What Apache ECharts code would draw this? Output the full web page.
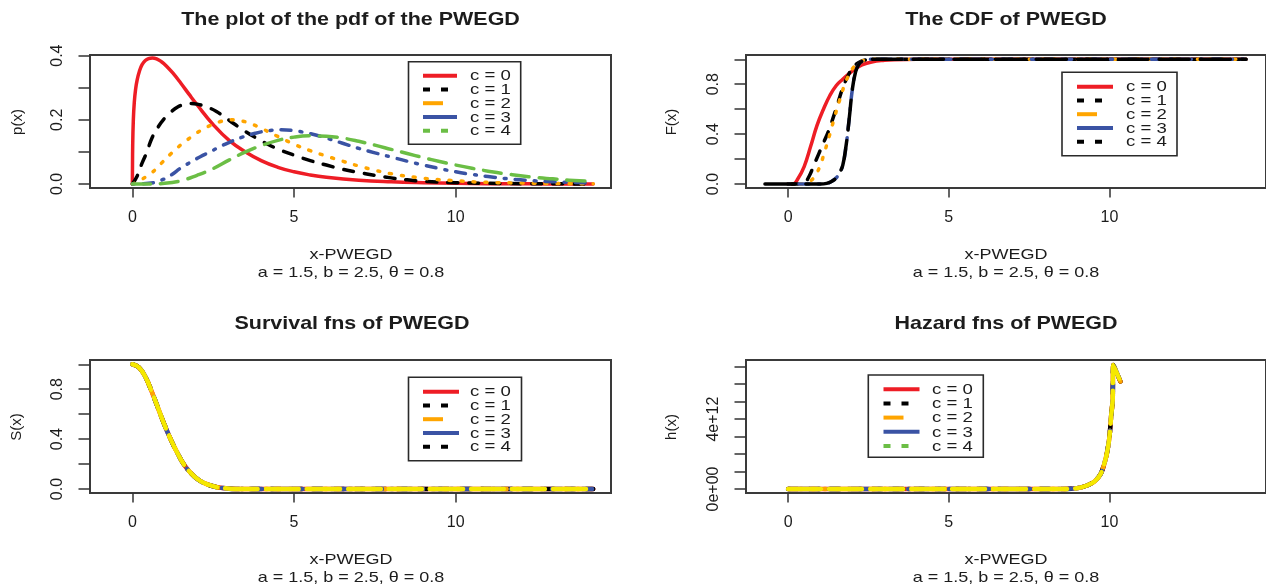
<!DOCTYPE html>
<html>
<head>
<meta charset="utf-8">
<script src="https://cdn.jsdelivr.net/npm/echarts@6/dist/echarts.min.js"></script>
<style>
  html, body { margin: 0; padding: 0; background: #ffffff; }
  #chart { width: 1266px; height: 587px; }
</style>
</head>
<body>
<div id="chart"></div>
<script>
// ---------------- data ----------------
const cLabels = ['c = 0', 'c = 1', 'c = 2', 'c = 3', 'c = 4'];
const xTickValues = [0, 5, 10];
const subtitleText = 'a = 1.5, b = 2.5, \u03b8 = 0.8';

// pdf p(x) for c = 0..4
const pdfX_c0 = [0, 0.01, 0.03, 0.06, 0.1, 0.15, 0.22, 0.3, 0.4, 0.5, 0.62, 0.75, 0.9, 1.05, 1.25, 1.5, 1.75, 2.0, 2.5, 3.0, 3.5, 4.0, 4.5, 5.0, 5.5, 6.0, 7.0, 8.0, 9.0, 10.0, 11.0, 12.0, 13.0, 14.25];
const pdfY_c0 = [0, 0.12, 0.2, 0.255, 0.295, 0.325, 0.352, 0.372, 0.385, 0.391, 0.393, 0.39, 0.381, 0.368, 0.346, 0.314, 0.28, 0.247, 0.185, 0.135, 0.1, 0.072, 0.052, 0.038, 0.028, 0.021, 0.012, 0.007, 0.004, 0.002, 0.001, 0.0006, 0.0003, 0.0001];
const pdfX_c1 = [0, 0.15, 0.3, 0.45, 0.6, 0.8, 1.0, 1.2, 1.4, 1.6, 1.8, 2.0, 2.3, 2.6, 3.0, 3.4, 3.8, 4.2, 4.6, 5.0, 5.5, 6.0, 6.5, 7.0, 7.5, 8.0, 8.5, 9.0, 10.0, 11.0, 12.0, 13.0, 14.25];
const pdfY_c1 = [0, 0.025, 0.065, 0.1, 0.142, 0.178, 0.205, 0.225, 0.24, 0.248, 0.251, 0.249, 0.24, 0.226, 0.198, 0.17, 0.145, 0.123, 0.105, 0.09, 0.073, 0.059, 0.046, 0.036, 0.027, 0.019, 0.013, 0.008, 0.004, 0.002, 0.001, 0.0005, 0.0002];
const pdfX_c2 = [0, 0.3, 0.6, 0.9, 1.2, 1.5, 1.8, 2.1, 2.4, 2.7, 3.0, 3.3, 3.6, 4.0, 4.5, 5.0, 5.5, 6.0, 6.5, 7.0, 7.5, 8.0, 9.0, 10.0, 11.0, 12.0, 13.0, 14.25];
const pdfY_c2 = [0, 0.015, 0.035, 0.065, 0.095, 0.122, 0.145, 0.166, 0.182, 0.194, 0.2, 0.198, 0.19, 0.173, 0.148, 0.124, 0.104, 0.087, 0.071, 0.056, 0.043, 0.032, 0.018, 0.01, 0.005, 0.003, 0.0015, 0.0007];
const pdfX_c3 = [0, 0.5, 0.9, 1.2, 1.5, 1.8, 2.1, 2.4, 2.7, 3.0, 3.4, 3.8, 4.2, 4.6, 5.0, 5.5, 6.0, 6.5, 7.0, 7.5, 8.0, 8.5, 9.0, 9.5, 10.0, 10.5, 11.0, 12.0, 13.0, 14.25];
const pdfY_c3 = [0, 0.002, 0.012, 0.028, 0.05, 0.068, 0.085, 0.1, 0.116, 0.13, 0.146, 0.158, 0.166, 0.169, 0.166, 0.157, 0.143, 0.127, 0.111, 0.097, 0.084, 0.071, 0.059, 0.048, 0.038, 0.03, 0.023, 0.013, 0.007, 0.003];
const pdfX_c4 = [0, 0.5, 1.0, 1.5, 2.0, 2.5, 3.0, 3.5, 4.0, 4.5, 5.0, 5.5, 6.0, 6.5, 7.0, 7.5, 8.0, 8.5, 9.0, 9.5, 10.0, 10.5, 11.0, 11.5, 12.0, 12.5, 13.0, 13.5, 14.25];
const pdfY_c4 = [0, 0, 0.002, 0.01, 0.027, 0.048, 0.075, 0.1, 0.12, 0.136, 0.146, 0.15, 0.149, 0.143, 0.133, 0.121, 0.108, 0.095, 0.082, 0.07, 0.059, 0.049, 0.04, 0.032, 0.026, 0.02, 0.016, 0.012, 0.008];

// CDF F(x) for c = 0..4
const cdfX_c0 = [0, 0.15, 0.3, 0.5, 0.7, 0.9, 1.1, 1.3, 1.5, 1.7, 1.9, 2.1, 2.3, 2.6, 3.0, 3.3, 4.0, 6.0, 8.0, 10.0, 12.0, 14.25];
const cdfY_c0 = [0, 0, 0.04, 0.14, 0.3, 0.47, 0.6, 0.71, 0.79, 0.84, 0.885, 0.925, 0.955, 0.978, 0.992, 0.997, 1, 1, 1, 1, 1, 1];
const cdfX_c1 = [0, 0.3, 0.5, 0.65, 0.8, 0.95, 1.1, 1.25, 1.4, 1.55, 1.7, 1.85, 2.0, 2.2, 2.4, 2.7, 4.0, 6.0, 8.0, 10.0, 12.0, 14.25];
const cdfY_c1 = [0, 0, 0.01, 0.06, 0.15, 0.24, 0.33, 0.42, 0.53, 0.65, 0.77, 0.86, 0.93, 0.975, 0.995, 1, 1, 1, 1, 1, 1, 1];
const cdfX_c2 = [0, 0.4, 0.55, 0.7, 0.85, 1.0, 1.15, 1.3, 1.45, 1.6, 1.75, 1.9, 2.05, 2.2, 2.4, 2.7, 4.0, 6.0, 8.0, 10.0, 12.0, 14.25];
const cdfY_c2 = [0, 0, 0.005, 0.025, 0.07, 0.15, 0.27, 0.4, 0.54, 0.67, 0.79, 0.88, 0.94, 0.975, 0.993, 1, 1, 1, 1, 1, 1, 1];
const cdfX_c3 = [0, 1.0, 1.2, 1.35, 1.5, 1.6, 1.7, 1.8, 1.9, 2.0, 2.1, 2.2, 2.3, 2.4, 2.55, 4.0, 6.0, 8.0, 10.0, 12.0, 14.25];
const cdfY_c3 = [0, 0, 0.005, 0.02, 0.05, 0.09, 0.15, 0.3, 0.52, 0.76, 0.9, 0.96, 0.985, 0.997, 1, 1, 1, 1, 1, 1, 1];
const cdfX_c4 = [-0.72, 0, 1.0, 1.2, 1.35, 1.5, 1.6, 1.7, 1.8, 1.9, 2.0, 2.1, 2.2, 2.3, 2.4, 2.55, 4.0, 6.0, 8.0, 10.0, 12.0, 14.25];
const cdfY_c4 = [0, 0, 0, 0.005, 0.02, 0.05, 0.09, 0.15, 0.3, 0.52, 0.76, 0.9, 0.96, 0.985, 0.997, 1, 1, 1, 1, 1, 1, 1];

// Survival S(x): the five c values share one curve at this scale
const survX = [0, 0.2, 0.4, 0.6, 0.8, 1.0, 1.2, 1.4, 1.6, 1.8, 2.0, 2.2, 2.5, 2.8, 3.2, 4.0, 6.0, 8.0, 10.0, 12.0, 14.25];
const survY = [1.0, 0.975, 0.9, 0.78, 0.645, 0.51, 0.39, 0.285, 0.195, 0.13, 0.082, 0.05, 0.022, 0.008, 0.001, 0, 0, 0, 0, 0, 0];

// Hazard h(x): the five c values share one curve at this scale
const hazX = [0, 1, 2, 3, 4, 5, 6, 7, 8, 8.6, 9.0, 9.3, 9.54, 9.74, 9.9, 10.0, 10.05, 10.1, 10.12, 10.34];
const hazY = [0, 0, 0, 0, 0, 0, 0, 0, 0, 0.002e12, 0.05e12, 0.2e12, 0.44e12, 0.91e12, 1.87e12, 3.0e12, 4.15e12, 5.1e12, 7.1e12, 6.15e12];

// ---------------- styling ----------------
const FONT = '"Liberation Sans", Arial, Helvetica, sans-serif';
const INK = '#1c1c1c';
const COL = { red: '#EE1D25', black: '#000000', orange: '#FFA500', blue: '#3A53A4', green: '#6BBE45', yellow: '#F5E800' };

const DASH = {
  solid: 'solid',
  dashed: [10, 11],
  dotted: [2, 10],
  dotdash: [2, 9, 10, 9],
  longdash: [18, 10],
  longBlack: [30, 11],
  yellowDash: [33, 8]
};

function pairs(xs, ys) { return xs.map((x, i) => [x, ys[i]]); }

function line(gi, xs, ys, color, dash, width, smooth) {
  return {
    type: 'line', xAxisIndex: gi, yAxisIndex: gi,
    data: pairs(xs, ys),
    showSymbol: false, symbol: 'none',
    smooth: smooth,
    animation: false, silent: true,
    lineStyle: { color: color, width: width, type: dash, cap: 'round', join: 'round' }
  };
}

function sci(v) {
  if (v === 0) return '0e+00';
  const e = Math.floor(Math.log10(Math.abs(v)));
  const m = v / Math.pow(10, e);
  return Math.round(m) + 'e+' + String(e).padStart(2, '0');
}

function xAxis(gi, min, max) {
  return {
    gridIndex: gi, type: 'value', min: min, max: max,
    axisLine: { show: false, onZero: false },
    splitLine: { show: false },
    axisTick: { show: true, customValues: xTickValues, length: 9.5, lineStyle: { color: '#333', width: 1.5 } },
    axisLabel: { customValues: xTickValues, margin: 22, fontSize: 16, fontFamily: FONT, color: INK,
      formatter: v => String(v) }
  };
}

function yAxis(gi, min, max, ticks, labels, fmt) {
  return {
    gridIndex: gi, type: 'value', min: min, max: max,
    axisLine: { show: false, onZero: false },
    splitLine: { show: false },
    axisTick: { show: true, customValues: ticks, length: 11.5, lineStyle: { color: '#333', width: 1.5 } },
    axisLabel: { customValues: labels, rotate: 90, margin: 24, fontSize: 16, fontFamily: FONT, color: INK,
      formatter: fmt }
  };
}

const gridBox = { show: true, borderColor: '#3a3a3a', borderWidth: 2, backgroundColor: 'transparent' };

// ---------------- text & legends ----------------
function text(x, y, s, opts) {
  opts = opts || {};
  return {
    type: 'text', x: x, y: y, z: 100, silent: true,
    rotation: opts.rotation || 0,
    scaleX: opts.scaleX || 1, scaleY: opts.scaleY || 1,
    style: {
      text: s, font: opts.font || ('15px ' + FONT), fill: INK,
      align: opts.align || 'center', verticalAlign: 'middle',
      textAlign: opts.align || 'center', textVerticalAlign: 'middle'
    }
  };
}

const SAMPLE = {
  solid: null,
  dots: [7, 11],
  short: [20, 100]
};

function legend(box, rowY0, rowStep, sx1, sx2, textX, items) {
  const els = [{
    type: 'rect', z: 90, silent: true,
    shape: { x: box[0], y: box[1], width: box[2], height: box[3] },
    style: { fill: '#ffffff', stroke: '#2a2a2a', lineWidth: 1.6 }
  }];
  items.forEach((it, i) => {
    const y = rowY0 + i * rowStep;
    els.push({
      type: 'line', z: 95, silent: true,
      shape: { x1: sx1, y1: y, x2: sx2, y2: y },
      style: { stroke: it.color, lineWidth: 4, lineDash: SAMPLE[it.sample], lineCap: 'butt' }
    });
    els.push(text(textX, y + 0.5, cLabels[i], { align: 'left', scaleX: 1.2, font: '15.5px ' + FONT }));
  });
  return els;
}

const titleFont = 'bold 19px ' + FONT;
const graphics = [
  text(350.5, 19.5, 'The plot of the pdf of the PWEGD', { font: titleFont, scaleX: 1.13 }),
  text(1006, 19.5, 'The CDF of PWEGD', { font: titleFont, scaleX: 1.13 }),
  text(352, 323.5, 'Survival fns of PWEGD', { font: titleFont, scaleX: 1.13 }),
  text(1006, 324, 'Hazard fns of PWEGD', { font: titleFont, scaleX: 1.13 }),

  text(351, 255, 'x-PWEGD', { scaleX: 1.2 }),
  text(351, 273, subtitleText, { scaleX: 1.2 }),
  text(1006, 255, 'x-PWEGD', { scaleX: 1.2 }),
  text(1006, 273, subtitleText, { scaleX: 1.2 }),
  text(351, 560, 'x-PWEGD', { scaleX: 1.2 }),
  text(351, 578, subtitleText, { scaleX: 1.2 }),
  text(1006, 560, 'x-PWEGD', { scaleX: 1.2 }),
  text(1006, 578, subtitleText, { scaleX: 1.2 }),

  text(18, 122, 'p(x)', { rotation: Math.PI / 2 }),
  text(672, 122, 'F(x)', { rotation: Math.PI / 2 }),
  text(17, 427, 'S(x)', { rotation: Math.PI / 2 }),
  text(672, 427, 'h(x)', { rotation: Math.PI / 2 })
]
.concat(legend([408.5, 61.7, 112.2, 82.6], 75.7, 13.75, 423, 457, 470, [
  { color: COL.red, sample: 'solid' }, { color: COL.black, sample: 'dots' },
  { color: COL.orange, sample: 'short' }, { color: COL.blue, sample: 'solid' },
  { color: COL.green, sample: 'dots' }]))
.concat(legend([1062, 72.3, 115, 83.4], 86.7, 13.75, 1077, 1113, 1126, [
  { color: COL.red, sample: 'solid' }, { color: COL.black, sample: 'dots' },
  { color: COL.orange, sample: 'short' }, { color: COL.blue, sample: 'solid' },
  { color: COL.black, sample: 'dots' }]))
.concat(legend([408.5, 377.3, 113, 83.4], 391.7, 13.75, 423, 459, 470, [
  { color: COL.red, sample: 'solid' }, { color: COL.black, sample: 'dots' },
  { color: COL.orange, sample: 'short' }, { color: COL.blue, sample: 'solid' },
  { color: COL.black, sample: 'dots' }]))
.concat(legend([868.3, 375, 115, 82.3], 389.3, 14.15, 883.5, 919.5, 932, [
  { color: COL.red, sample: 'solid' }, { color: COL.black, sample: 'dots' },
  { color: COL.orange, sample: 'short' }, { color: COL.blue, sample: 'solid' },
  { color: COL.green, sample: 'dots' }]));

// ---------------- chart ----------------
const W = 3.5, WS = 4.5, SM = 0.45, SMH = 0.2;
const option = {
  backgroundColor: '#ffffff',
  animation: false,
  grid: [
    Object.assign({ left: 90, top: 55, width: 521, height: 133 }, gridBox),
    Object.assign({ left: 746, top: 55, width: 523, height: 133 }, gridBox),
    Object.assign({ left: 90, top: 360, width: 521, height: 133 }, gridBox),
    Object.assign({ left: 746, top: 360, width: 523, height: 133 }, gridBox)
  ],
  xAxis: [
    xAxis(0, -1.31, 14.8),
    xAxis(1, -1.31, 14.87),
    xAxis(2, -1.31, 14.8),
    xAxis(3, -1.31, 14.87)
  ],
  yAxis: [
    yAxis(0, -0.0125, 0.402, [0, 0.1, 0.2, 0.3, 0.4], [0, 0.2, 0.4], v => v.toFixed(1)),
    yAxis(1, -0.032, 1.0345, [0, 0.2, 0.4, 0.6, 0.8, 1.0], [0, 0.4, 0.8], v => v.toFixed(1)),
    yAxis(2, -0.032, 1.0345, [0, 0.2, 0.4, 0.6, 0.8, 1.0], [0, 0.4, 0.8], v => v.toFixed(1)),
    yAxis(3, -0.228e12, 7.38e12, [0, 1e12, 2e12, 3e12, 4e12, 5e12, 6e12, 7e12], [0, 4e12], sci)
  ],
  series: [
    line(0, pdfX_c0, pdfY_c0, COL.red, DASH.solid, W, SM),
    line(0, pdfX_c1, pdfY_c1, COL.black, DASH.dashed, W, SM),
    line(0, pdfX_c2, pdfY_c2, COL.orange, DASH.dotted, W, SM),
    line(0, pdfX_c3, pdfY_c3, COL.blue, DASH.dotdash, W, SM),
    line(0, pdfX_c4, pdfY_c4, COL.green, DASH.longdash, W, SM),

    line(1, cdfX_c0, cdfY_c0, COL.red, DASH.solid, W, SM),
    line(1, cdfX_c1, cdfY_c1, COL.black, DASH.dashed, W, SM),
    line(1, cdfX_c2, cdfY_c2, COL.orange, DASH.dotted, W, SM),
    line(1, cdfX_c3, cdfY_c3, COL.blue, DASH.dotdash, W, SM),
    line(1, cdfX_c4, cdfY_c4, COL.black, DASH.longBlack, W, SM),

    line(2, survX, survY, COL.red, DASH.solid, WS, SM),
    line(2, survX, survY, COL.black, DASH.dashed, WS, SM),
    line(2, survX, survY, COL.orange, DASH.dotted, WS, SM),
    line(2, survX, survY, COL.blue, DASH.dotdash, WS, SM),
    line(2, survX, survY, COL.yellow, DASH.yellowDash, WS, SM),

    line(3, hazX, hazY, COL.red, DASH.solid, WS, SMH),
    line(3, hazX, hazY, COL.black, DASH.dashed, WS, SMH),
    line(3, hazX, hazY, COL.orange, DASH.dotted, WS, SMH),
    line(3, hazX, hazY, COL.blue, DASH.dotdash, WS, SMH),
    line(3, hazX, hazY, COL.yellow, DASH.yellowDash, WS, SMH)
  ],
  graphic: graphics
};

const chart = echarts.init(document.getElementById('chart'), null, { renderer: 'canvas' });
chart.setOption(option);
</script>
</body>
</html>
